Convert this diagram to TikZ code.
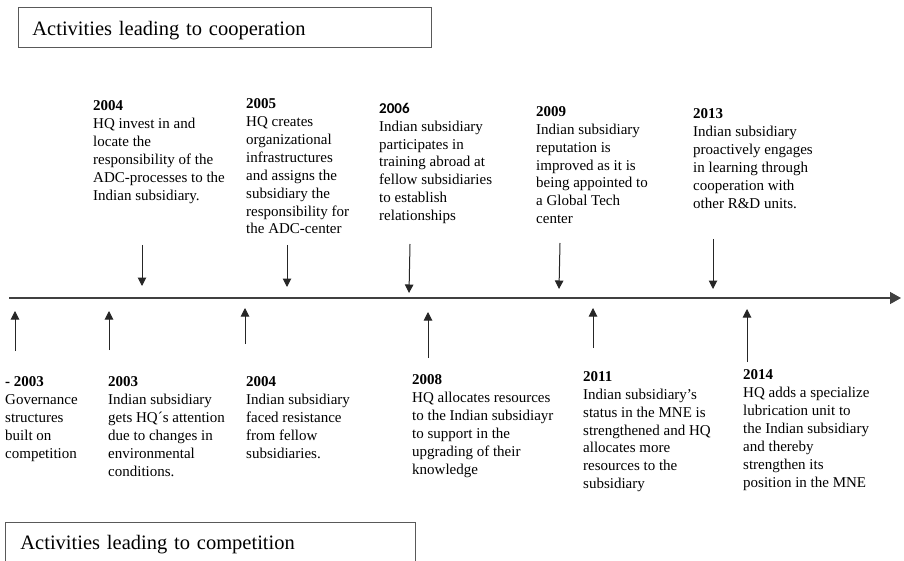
\documentclass[tikz,border=0pt]{standalone}
\usepackage{fontspec}
\setmainfont{Liberation Serif}
\newfontfamily\carlito{Carlito}
\usetikzlibrary{arrows.meta}
\begin{document}
\begin{tikzpicture}[x=1pt,y=-1pt,
  evt/.style={anchor=north west, inner sep=0pt, align=left, font=\fontsize{15}{17.85}\selectfont},
  tick/.style={draw=black!85, line width=1pt, -{Triangle[length=8.5pt,width=8.5pt]}},
  timeline/.style={draw=black!75, line width=1.4pt, -{Triangle[length=11pt,width=12pt]}},
  titlebox/.style={draw=black!65, line width=0.8pt, anchor=north west, minimum height=40pt,
    inner ysep=0pt, align=left, font=\fontsize{20.5}{24}\selectfont}
]
\useasboundingbox (0,0) rectangle (904,561);

% title boxes
\node[titlebox, minimum width=413pt, text width=385pt, inner xsep=14pt,
  text height=18pt, text depth=2pt] (coop) at (18,7) {Activities leading to cooperation};
\node[titlebox, minimum width=410pt, text width=380pt, inner xsep=15pt,
  text height=17pt, text depth=3pt] (comp) at (5,522) {Activities leading to competition};

% timeline
\coordinate (tl0) at (9,298);
\coordinate (tl1) at (901,298);
\draw[timeline] (tl0) -- (tl1);

% upper events
\node[evt] (e2004a) at (93,100.8) {\textbf{2004}\\HQ invest in and\\locate the\\responsibility of the\\ADC-processes to the\\Indian subsidiary.};
\node[evt] (e2005) at (246,98.8) {\textbf{2005}\\HQ creates\\organizational\\infrastructures\\and assigns the\\subsidiary the\\responsibility for\\the ADC-center};
\node[evt] (e2006) at (379,103) {{\carlito\bfseries 2006}\\Indian subsidiary\\participates in\\training abroad at\\fellow subsidiaries\\to establish\\relationships};
\node[evt] (e2009) at (536,106.3) {\textbf{2009}\\Indian subsidiary\\reputation is\\improved as it is\\being appointed to\\a Global Tech\\center};
\node[evt] (e2013) at (693,108.8) {\textbf{2013}\\Indian subsidiary\\proactively engages\\in learning through\\cooperation with\\other R\&D units.};

% lower events
\node[evt] (e2003a) at (5,376.8) {\textbf{- 2003}\\Governance\\structures\\built on\\competition};
\node[evt] (e2003b) at (108,376.8) {\textbf{2003}\\Indian subsidiary\\gets HQ´s attention\\due to changes in\\environmental\\conditions.};
\node[evt] (e2004b) at (246,376.8) {\textbf{2004}\\Indian subsidiary\\faced resistance\\from fellow\\subsidiaries.};
\node[evt] (e2008) at (412,374.8) {\textbf{2008}\\HQ allocates resources\\to the Indian subsidiayr\\to support in the\\upgrading of their\\knowledge};
\node[evt] (e2011) at (583,371.3) {\textbf{2011}\\Indian subsidiary’s\\status in the MNE is\\strengthened and HQ\\allocates more\\resources to the\\subsidiary};
\node[evt] (e2014) at (743,369.8) {\textbf{2014}\\HQ adds a specialize\\lubrication unit to\\the Indian subsidiary\\and thereby\\strengthen its\\position in the MNE};

% down arrows
\coordinate (d1s) at (142,245); \coordinate (d1e) at (142,286);
\coordinate (d2s) at (287,245); \coordinate (d2e) at (287,287);
\coordinate (d3s) at (410,244); \coordinate (d3e) at (409,293);
\coordinate (d4s) at (560,243); \coordinate (d4e) at (559,289);
\coordinate (d5s) at (713,239); \coordinate (d5e) at (713,289);
\foreach \i in {1,...,5} \draw[tick] (d\i s) -- (d\i e);

% up arrows
\coordinate (u1s) at (15,351); \coordinate (u1e) at (15,311);
\coordinate (u2s) at (109,350); \coordinate (u2e) at (109,311);
\coordinate (u3s) at (245,344); \coordinate (u3e) at (245,308);
\coordinate (u4s) at (428,358); \coordinate (u4e) at (428,312);
\coordinate (u5s) at (593,348); \coordinate (u5e) at (593,308);
\coordinate (u6s) at (747,362); \coordinate (u6e) at (747,309);
\foreach \i in {1,...,6} \draw[tick] (u\i s) -- (u\i e);
\end{tikzpicture}
\end{document}
